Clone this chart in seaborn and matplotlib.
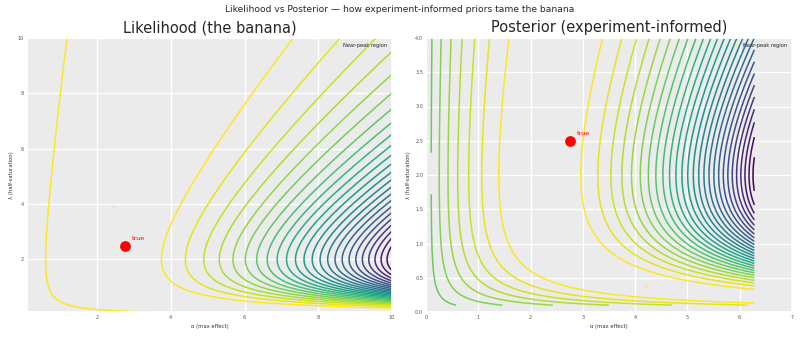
import numpy as np
import matplotlib
matplotlib.use("Agg")
import matplotlib.pyplot as plt
import seaborn as sns

# ---- data / model values ----
alpha_true = 2.75          # true max effect
lam_true = 2.5             # true half-saturation
ref_dose = 2.4             # dose at which the experiment observed the effect
hill_power = 2.2           # curvature of dose sensitivity
observed_effect = 2.176    # observed (scaled) effect
noise_sd = 1.11            # measurement noise
prior_alpha_weight = 0.0   # log-prior weight on alpha (flat inside the prior box)

lik_alpha_range = [0.1, 10.0]
lik_lam_range = [0.1, 10.0]
post_alpha_range = [0.1, 6.28]
post_lam_range = [0.1, 4.0]

lik_level_step = 1.0
lik_n_levels = 25
post_level_step = 0.25
post_n_levels = 27

suptitle = "Likelihood vs Posterior \u2014 how experiment-informed priors tame the banana"
titles = ["Likelihood (the banana)", "Posterior (experiment-informed)"]
xlabel = "\u03b1 (max effect)"
ylabel = "\u03bb (half-saturation)"
legend_label = "Near-peak region"


def sensitivity(lam):
    peak = ref_dose / (hill_power - 1.0)
    return (lam / peak) * ((peak + ref_dose) / (lam + ref_dose)) ** hill_power


def loglik(A, L):
    return -0.5 * ((A * sensitivity(L) - observed_effect) / noise_sd) ** 2


n = 400
a1 = np.linspace(*lik_alpha_range, n)
l1 = np.linspace(*lik_lam_range, n)
A1, L1 = np.meshgrid(a1, l1)
Z1 = loglik(A1, L1)

a2 = np.linspace(*post_alpha_range, n)
l2 = np.linspace(*post_lam_range, n)
A2, L2 = np.meshgrid(a2, l2)
Z2 = loglik(A2, L2) + prior_alpha_weight * np.log(A2)

lev1 = -lik_level_step * np.arange(lik_n_levels, 0, -1)
lev2 = -post_level_step * np.arange(post_n_levels, 0, -1)

sns.set_theme(style="darkgrid", rc={
    "axes.facecolor": "#EBEBEB",
    "grid.color": "white",
    "grid.linewidth": 1.0,
    "xtick.labelsize": 3.6,
    "ytick.labelsize": 3.6,
    "xtick.color": "#555555",
    "ytick.color": "#555555",
    "axes.labelsize": 3.8,
    "axes.labelcolor": "#333333",
})
plt.rcParams["font.family"] = ["DejaVu Sans"]

fig = plt.figure(figsize=(8, 3.37), dpi=100)
W, H = 800, 337
ax1 = fig.add_axes([27 / W, 1 - 312 / H, 365 / W, 274 / H])
ax2 = fig.add_axes([426 / W, 1 - 312 / H, 366 / W, 274 / H])

for ax, (A, L, Z, lev), title in zip(
        [ax1, ax2],
        [(A1, L1, Z1, lev1), (A2, L2, Z2, lev2)],
        titles):
    ax.contour(A, L, Z, levels=lev, cmap="viridis", linewidths=1.1)
    iy, ix = np.unravel_index(np.argmax(Z), Z.shape)
    sns.scatterplot(x=[A[iy, ix]], y=[L[iy, ix]], ax=ax, s=10, color="#f2e34c",
                    alpha=0.25, edgecolor="none", label=legend_label)
    ax.scatter([alpha_true], [lam_true], s=45, color="red", zorder=5)
    ax.annotate("true", (alpha_true, lam_true), xytext=(5, 4),
                textcoords="offset points", color="red", fontsize=4.6)
    ax.set_title(title, fontsize=10.5, pad=4)
    ax.set_xlabel(xlabel, labelpad=3)
    ax.set_ylabel(ylabel, labelpad=3)
    ax.tick_params(axis="both", pad=2, length=0)
    ax.legend(loc="upper right", frameon=False, fontsize=3.7,
              handletextpad=0.2, borderaxespad=0.6)

ax2.set_xlim(0, 7)
ax2.set_ylim(0, 4)

fig.suptitle(suptitle, fontsize=6.55, y=0.985)
fig.savefig("out.png", dpi=100)
